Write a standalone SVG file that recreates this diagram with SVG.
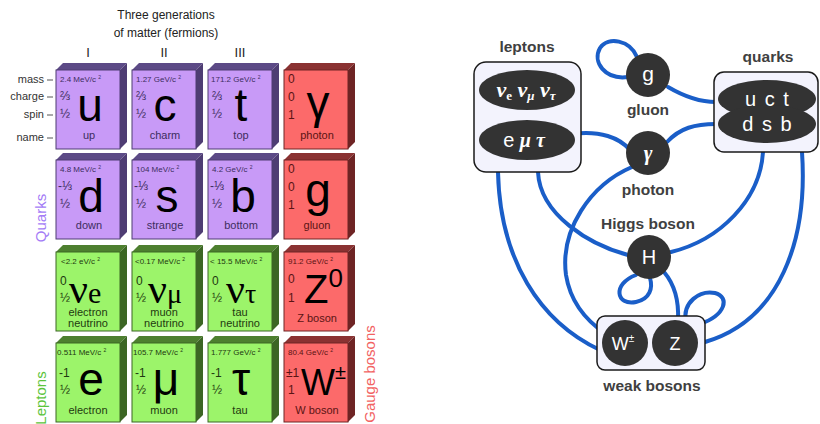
<svg xmlns="http://www.w3.org/2000/svg" width="820" height="424" viewBox="0 0 820 424">
<style>
text{font-family:"Liberation Sans","DejaVu Sans",sans-serif}
.hd{font-size:12px;fill:#222;text-anchor:middle}
.rn{font-size:13px;fill:#222;text-anchor:middle}
.lb{font-size:11px;fill:#333;text-anchor:end}
.qf{fill:#c89af7;stroke:#4e3d73;stroke-width:1}
.qt{fill:#5c4a86}.qs{fill:#4e3d73}
.lf{fill:#9cf46a;stroke:#3c6624;stroke-width:1}
.lt{fill:#4d7f2f}.ls{fill:#3c6624}
.bf{fill:#fc6a6a;stroke:#6e2424;stroke-width:1}
.bt{fill:#8a3232}.bs{fill:#6e2424}
.m{font-size:8px}
.c{font-size:12px}
.big{font-size:46px;fill:#000;text-anchor:middle}
.nm{font-size:11px;text-anchor:middle}
.q text.m,.q text.c,.q text.nm{fill:#3d2d60}
.l text.m,.l text.c,.l text.nm{fill:#1f3a10}
.b text.m,.b text.c,.b text.nm{fill:#5a1414}
.sup{font-size:5px}
.side{font-size:15px;text-anchor:middle}
.box{fill:#f3f3fd;stroke:#1a1a1a;stroke-width:1.5}
.dk{fill:#333}
.wt{fill:#fff;text-anchor:middle}
.lbl{font-size:15.5px;font-weight:bold;fill:#404040;text-anchor:middle}
.sr{font-family:"Liberation Serif","DejaVu Serif",serif}
</style>

<!-- Header -->
<text class="hd" x="166" y="19">Three generations</text>
<text class="hd" x="166" y="37">of matter (fermions)</text>
<text class="rn" x="88" y="57">I</text>
<text class="rn" x="164" y="57">II</text>
<text class="rn" x="240" y="57">III</text>

<g id="legend">
<text class="lb" x="44" y="83">mass</text>
<text class="lb" x="44" y="100">charge</text>
<text class="lb" x="44" y="118">spin</text>
<text class="lb" x="44" y="141">name</text>
<g stroke="#555" stroke-width="1">
<line x1="47" y1="80" x2="53" y2="80"/>
<line x1="47" y1="97" x2="53" y2="97"/>
<line x1="47" y1="115" x2="53" y2="115"/>
<line x1="47" y1="138" x2="53" y2="138"/>
</g>
</g>

<text class="side" transform="translate(46,218) rotate(-90)" fill="#a47cf6">Quarks</text>
<text class="side" transform="translate(46,398) rotate(-90)" fill="#5cc43c">Leptons</text>
<text class="side" transform="translate(375,374) rotate(-90)" fill="#f26262">Gauge bosons</text>

<!-- Row 1 -->
<g id="card-u" class="q" transform="translate(56,70)">
<polygon class="qt" points="0,0 64,0 71,-7 7,-7"/><polygon class="qs" points="64,0 71,-7 71,72 64,79"/><rect class="qf" width="64" height="79"/>
<text class="m" x="4" y="12">2.4 MeV/c <tspan class="sup" dy="-3">2</tspan></text>
<text class="c" x="4" y="30">⅔</text><text class="c" x="4" y="48">½</text>
<text class="big" x="34" y="51">u</text><text class="nm" x="33" y="69">up</text>
</g>
<g id="card-c" class="q" transform="translate(132,70)">
<polygon class="qt" points="0,0 64,0 71,-7 7,-7"/><polygon class="qs" points="64,0 71,-7 71,72 64,79"/><rect class="qf" width="64" height="79"/>
<text class="m" x="4" y="12">1.27 GeV/c <tspan class="sup" dy="-3">2</tspan></text>
<text class="c" x="4" y="30">⅔</text><text class="c" x="4" y="48">½</text>
<text class="big" x="33" y="51">c</text><text class="nm" x="33" y="69">charm</text>
</g>
<g id="card-t" class="q" transform="translate(208,70)">
<polygon class="qt" points="0,0 64,0 71,-7 7,-7"/><polygon class="qs" points="64,0 71,-7 71,72 64,79"/><rect class="qf" width="64" height="79"/>
<text class="m" x="3" y="12">171.2 GeV/c <tspan class="sup" dy="-3">2</tspan></text>
<text class="c" x="4" y="30">⅔</text><text class="c" x="4" y="48">½</text>
<text class="big" x="33" y="51">t</text><text class="nm" x="33" y="69">top</text>
</g>
<g id="card-photon" class="b" transform="translate(284,70)">
<polygon class="bt" points="0,0 64,0 71,-7 7,-7"/><polygon class="bs" points="64,0 71,-7 71,72 64,79"/><rect class="bf" width="64" height="79"/>
<text class="c" x="4" y="13">0</text><text class="c" x="4" y="31">0</text><text class="c" x="4" y="49">1</text>
<text class="big" x="34" y="48">γ</text><text class="nm" x="33" y="69">photon</text>
</g>

<!-- Row 2 -->
<g id="card-d" class="q" transform="translate(56,160)">
<polygon class="qt" points="0,0 64,0 71,-7 7,-7"/><polygon class="qs" points="64,0 71,-7 71,72 64,79"/><rect class="qf" width="64" height="79"/>
<text class="m" x="4" y="12">4.8 MeV/c <tspan class="sup" dy="-3">2</tspan></text>
<text class="c" x="2" y="30">-⅓</text><text class="c" x="4" y="48">½</text>
<text class="big" x="35" y="52">d</text><text class="nm" x="33" y="69">down</text>
</g>
<g id="card-s" class="q" transform="translate(132,160)">
<polygon class="qt" points="0,0 64,0 71,-7 7,-7"/><polygon class="qs" points="64,0 71,-7 71,72 64,79"/><rect class="qf" width="64" height="79"/>
<text class="m" x="4" y="12">104 MeV/c <tspan class="sup" dy="-3">2</tspan></text>
<text class="c" x="2" y="30">-⅓</text><text class="c" x="4" y="48">½</text>
<text class="big" x="35" y="52">s</text><text class="nm" x="33" y="69">strange</text>
</g>
<g id="card-b" class="q" transform="translate(208,160)">
<polygon class="qt" points="0,0 64,0 71,-7 7,-7"/><polygon class="qs" points="64,0 71,-7 71,72 64,79"/><rect class="qf" width="64" height="79"/>
<text class="m" x="4" y="12">4.2 GeV/c <tspan class="sup" dy="-3">2</tspan></text>
<text class="c" x="2" y="30">-⅓</text><text class="c" x="4" y="48">½</text>
<text class="big" x="35" y="52">b</text><text class="nm" x="33" y="69">bottom</text>
</g>
<g id="card-gluon" class="b" transform="translate(284,160)">
<polygon class="bt" points="0,0 64,0 71,-7 7,-7"/><polygon class="bs" points="64,0 71,-7 71,72 64,79"/><rect class="bf" width="64" height="79"/>
<text class="c" x="4" y="13">0</text><text class="c" x="4" y="31">0</text><text class="c" x="4" y="49">1</text>
<text class="big" x="34" y="46">g</text><text class="nm" x="33" y="69">gluon</text>
</g>

<!-- Row 3 -->
<g id="card-nue" class="l" transform="translate(56,252)">
<polygon class="lt" points="0,0 64,0 71,-7 7,-7"/><polygon class="ls" points="64,0 71,-7 71,72 64,79"/><rect class="lf" width="64" height="79"/>
<text class="m" x="5" y="12">&lt;2.2 eV/c <tspan class="sup" dy="-3">2</tspan></text>
<text class="c" x="4" y="33">0</text><text class="c" x="4" y="50">½</text>
<text class="sr" x="13" y="51" fill="#000"><tspan font-size="42">ν</tspan><tspan font-size="30">e</tspan></text>
<text class="nm" x="32" y="64">electron</text><text class="nm" x="32" y="75">neutrino</text>
</g>
<g id="card-numu" class="l" transform="translate(132,252)">
<polygon class="lt" points="0,0 64,0 71,-7 7,-7"/><polygon class="ls" points="64,0 71,-7 71,72 64,79"/><rect class="lf" width="64" height="79"/>
<text class="m" x="3" y="12">&lt;0.17 MeV/c <tspan class="sup" dy="-3">2</tspan></text>
<text class="c" x="4" y="33">0</text><text class="c" x="4" y="50">½</text>
<text class="sr" x="16" y="51" fill="#000"><tspan font-size="42">ν</tspan><tspan font-size="28">μ</tspan></text>
<text class="nm" x="32" y="64">muon</text><text class="nm" x="32" y="75">neutrino</text>
</g>
<g id="card-nutau" class="l" transform="translate(208,252)">
<polygon class="lt" points="0,0 64,0 71,-7 7,-7"/><polygon class="ls" points="64,0 71,-7 71,72 64,79"/><rect class="lf" width="64" height="79"/>
<text class="m" x="2" y="12">&lt; 15.5 MeV/c <tspan class="sup" dy="-3">2</tspan></text>
<text class="c" x="4" y="33">0</text><text class="c" x="4" y="50">½</text>
<text class="sr" x="18" y="51" fill="#000"><tspan font-size="42">ν</tspan><tspan font-size="28">τ</tspan></text>
<text class="nm" x="32" y="64">tau</text><text class="nm" x="32" y="75">neutrino</text>
</g>
<g id="card-z" class="b" transform="translate(284,252)">
<polygon class="bt" points="0,0 64,0 71,-7 7,-7"/><polygon class="bs" points="64,0 71,-7 71,72 64,79"/><rect class="bf" width="64" height="79"/>
<text class="m" x="4" y="12">91.2 GeV/c <tspan class="sup" dy="-3">2</tspan></text>
<text class="c" x="4" y="31">0</text><text class="c" x="4" y="50">1</text>
<text x="20" y="51" font-size="40" fill="#000">Z<tspan font-size="26" dy="-16">0</tspan></text>
<text class="nm" x="33" y="70">Z boson</text>
</g>

<!-- Row 4 -->
<g id="card-e" class="l" transform="translate(56,343)">
<polygon class="lt" points="0,0 64,0 71,-7 7,-7"/><polygon class="ls" points="64,0 71,-7 71,72 64,79"/><rect class="lf" width="64" height="79"/>
<text class="m" x="1" y="12">0.511 MeV/c <tspan class="sup" dy="-3">2</tspan></text>
<text class="c" x="3" y="34">-1</text><text class="c" x="4" y="51">½</text>
<text class="big" x="35" y="52">e</text><text class="nm" x="32" y="71">electron</text>
</g>
<g id="card-mu" class="l" transform="translate(132,343)">
<polygon class="lt" points="0,0 64,0 71,-7 7,-7"/><polygon class="ls" points="64,0 71,-7 71,72 64,79"/><rect class="lf" width="64" height="79"/>
<text class="m" x="1" y="12">105.7 MeV/c <tspan class="sup" dy="-3">2</tspan></text>
<text class="c" x="3" y="34">-1</text><text class="c" x="4" y="51">½</text>
<text class="big" x="34" y="52">μ</text><text class="nm" x="32" y="71">muon</text>
</g>
<g id="card-tau" class="l" transform="translate(208,343)">
<polygon class="lt" points="0,0 64,0 71,-7 7,-7"/><polygon class="ls" points="64,0 71,-7 71,72 64,79"/><rect class="lf" width="64" height="79"/>
<text class="m" x="3" y="12">1.777 GeV/c <tspan class="sup" dy="-3">2</tspan></text>
<text class="c" x="3" y="34">-1</text><text class="c" x="4" y="51">½</text>
<text class="big" x="33" y="52">τ</text><text class="nm" x="32" y="71">tau</text>
</g>
<g id="card-w" class="b" transform="translate(284,343)">
<polygon class="bt" points="0,0 64,0 71,-7 7,-7"/><polygon class="bs" points="64,0 71,-7 71,72 64,79"/><rect class="bf" width="64" height="79"/>
<text class="m" x="4" y="12">80.4 GeV/c <tspan class="sup" dy="-3">2</tspan></text>
<text class="c" x="2" y="34">±1</text><text class="c" x="4" y="51">1</text>
<text x="17" y="52" font-size="36" fill="#000">W<tspan font-size="20" dy="-16">±</tspan></text>
<text class="nm" x="33" y="71">W boson</text>
</g>

<!-- Right: interaction graph -->
<g id="connectors" fill="none" stroke="#1a5ec8" stroke-width="4" stroke-linecap="round">
<path d="M628,77 C605,80 592,62 600,48 C608,36 630,40 637,57"/>
<path d="M668,87 C685,97 700,102 716,102"/>
<path d="M667,142 C680,128 695,124 716,124"/>
<path d="M572,134 C600,130 620,138 630,150"/>
<path d="M632,167 C590,185 560,230 566,275 C570,300 585,320 606,334"/>
<path d="M498,172 C500,260 540,322 600,350"/>
<path d="M538,172 C540,215 590,245 628,255"/>
<path d="M671,252 C720,240 760,200 763,152"/>
<path d="M802,152 C808,240 780,320 705,342"/>
<path d="M664,272 C675,285 679,300 678,320"/>
<path d="M636,275 C612,284 616,306 636,302 C650,299 653,288 650,278"/>
<path d="M686,322 C682,302 700,290 715,293 C730,297 726,315 700,324"/>
</g>

<g id="leptons">
<text class="lbl" x="527" y="52">leptons</text>
<rect class="box" x="474" y="62" width="107" height="110" rx="12"/>
<ellipse class="dk" cx="527" cy="90" rx="48" ry="20"/>
<text class="wt sr" x="526" y="97" font-weight="bold" font-style="italic"><tspan font-size="22">ν</tspan><tspan font-size="13" font-style="normal" dy="3">e</tspan><tspan font-size="22" dy="-3"> ν</tspan><tspan font-size="13" dy="3">μ</tspan><tspan font-size="22" dy="-3"> ν</tspan><tspan font-size="13" dy="3">τ</tspan></text>
<ellipse class="dk" cx="527" cy="140" rx="48" ry="20"/>
<text class="wt" x="524" y="147" font-size="20">e <tspan class="sr" font-style="italic" font-weight="bold">μ  τ</tspan></text>
</g>

<g id="gluon">
<circle class="dk" cx="648" cy="75" r="22"/>
<text class="wt" x="648" y="81" font-size="21">g</text>
<text class="lbl" x="648" y="115">gluon</text>
</g>

<g id="photon">
<circle class="dk" cx="648" cy="153" r="22"/>
<text class="wt sr" x="648" y="160" font-size="21" font-style="italic" font-weight="bold">γ</text>
<text class="lbl" x="648" y="195">photon</text>
</g>

<g id="quarks">
<text class="lbl" x="768" y="62">quarks</text>
<rect class="box" x="714" y="72" width="104" height="80" rx="10"/>
<ellipse class="dk" cx="767" cy="99" rx="49" ry="19"/>
<ellipse class="dk" cx="767" cy="124" rx="49" ry="19"/>
<text class="wt" x="767" y="106" font-size="20" word-spacing="3">u c t</text>
<text class="wt" x="767" y="131" font-size="20" word-spacing="3">d s b</text>
</g>

<g id="higgs">
<text class="lbl" x="648" y="229">Higgs boson</text>
<circle class="dk" cx="649" cy="257" r="22"/>
<text class="wt" x="649" y="264" font-size="20">H</text>
</g>

<g id="weak">
<rect class="box" x="597" y="316" width="108" height="54" rx="8"/>
<circle class="dk" cx="625" cy="343" r="23"/>
<text class="wt" x="623" y="350" font-size="18">W<tspan font-size="10" dy="-8">±</tspan></text>
<circle class="dk" cx="675" cy="343" r="23"/>
<text class="wt" x="675" y="350" font-size="18">Z</text>
<text class="lbl" x="652" y="391">weak bosons</text>
</g>
</svg>
